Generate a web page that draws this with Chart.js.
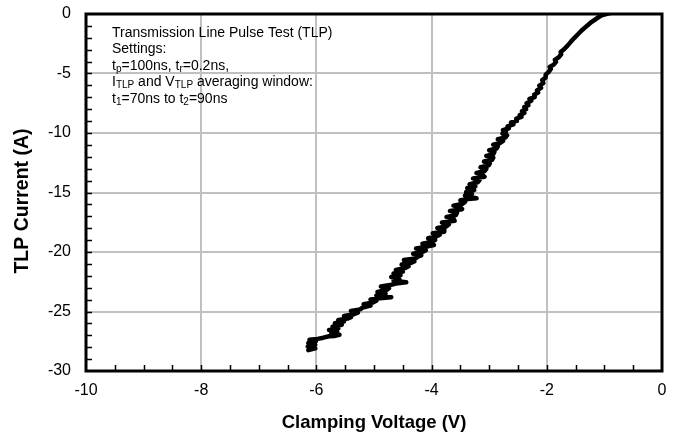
<!DOCTYPE html>
<html>
<head>
<meta charset="utf-8">
<script src="https://cdn.jsdelivr.net/npm/chart.js@4.4.0/dist/chart.umd.min.js"></script>
<style>
html, body { margin: 0; padding: 0; background: #fff; }
</style>
</head>
<body>
<canvas id="myChart" width="680" height="439"></canvas>
<script>

// clamping voltage (V) and TLP current (A), bottom to top
let voltage = [
  -6.14, -6.02, -6.15, -6.02, -6.14, -6.01, -6.12, -5.98, -5.88, -5.78,
  -5.68, -5.60, -5.74, -5.64, -5.78, -5.62, -5.72, -5.56, -5.68, -5.52,
  -5.62, -5.46, -5.40, -5.52, -5.36, -5.28, -5.40, -5.24,
  -5.20, -5.06, -5.18, -5.02, -4.96, -5.06, -4.90, -4.70, -4.96, -4.80,
  -4.94, -4.78, -4.74, -4.88, -4.72, -4.62, -4.44, -4.66, -4.56, -4.70,
  -4.54, -4.66, -4.50, -4.62, -4.46, -4.40, -4.52, -4.36, -4.30, -4.48,
  -4.28, -4.24, -4.18, -4.32, -4.16,
  -4.10, -4.27, -4.08, -3.96, -4.16, -4.00, -3.94, -4.06, -3.92, -3.86,
  -3.98, -3.78, -3.78, -3.90, -3.74, -3.70, -3.82, -3.60, -3.62, -3.74,
  -3.58, -3.56, -3.68, -3.47, -3.50, -3.62, -3.46, -3.42, -3.50, -3.36,
  -3.22, -3.34, -3.42, -3.30, -3.40,
  -3.26, -3.38, -3.24, -3.34, -3.20, -3.17, -3.28, -3.08, -3.12, -3.22,
  -3.08, -3.05, -3.15, -3.01, -2.99, -3.09, -2.95, -2.93, -3.05, -2.93,
  -2.91, -3.00, -2.87, -2.85, -2.93, -2.81, -2.76, -2.85, -2.72, -2.69,
  -2.77,
  -2.71, -2.76, -2.66, -2.68, -2.58, -2.62, -2.52, -2.53, -2.44, -2.47,
  -2.39, -2.43, -2.36, -2.39, -2.32, -2.35, -2.27, -2.30, -2.21, -2.22,
  -2.15, -2.17, -2.10, -2.13, -2.06, -2.08, -2.02, -2.02,
  -1.97, -1.93, -1.95, -1.88, -1.84, -1.86, -1.79, -1.75, -1.76, -1.70,
  -1.64, -1.58, -1.52, -1.45, -1.38, -1.30, -1.22, -1.13, -1.05, -0.97,
  -0.88
];
let current = [
  -28.25, -28.1, -27.95, -27.8, -27.65, -27.5, -27.38, -27.3, -27.2, -27.08,
  -27.05, -26.95, -26.82, -26.7, -26.55, -26.42, -26.28, -26.12, -25.98, -25.85,
  -25.72, -25.6, -25.48, -25.38, -25.25, -25.1, -24.95, -24.82,
  -24.68, -24.5, -24.38, -24.25, -24.1, -23.98, -23.88, -23.8, -23.65, -23.5,
  -23.35, -23.2, -23.05, -22.9, -22.78, -22.65, -22.55, -22.42, -22.28, -22.1,
  -21.95, -21.8, -21.65, -21.5, -21.35, -21.2, -21.05, -20.92, -20.8, -20.68,
  -20.55, -20.4, -20.28, -20.15, -20.0,
  -19.85, -19.7, -19.55, -19.42, -19.3, -19.15, -19.0, -18.85, -18.7, -18.55,
  -18.42, -18.3, -18.12, -17.98, -17.85, -17.68, -17.52, -17.38, -17.2, -17.05,
  -16.9, -16.72, -16.55, -16.4, -16.25, -16.1, -15.95, -15.8, -15.65, -15.55,
  -15.48, -15.38, -15.25, -15.1, -14.95,
  -14.8, -14.62, -14.48, -14.3, -14.15, -13.98, -13.82, -13.68, -13.5, -13.35,
  -13.2, -13.02, -12.88, -12.72, -12.55, -12.4, -12.25, -12.08, -11.92, -11.78,
  -11.6, -11.45, -11.3, -11.12, -10.98, -10.84, -10.66, -10.52, -10.38, -10.2,
  -10.05,
  -9.9, -9.75, -9.6, -9.45, -9.28, -9.12, -8.98, -8.8, -8.65, -8.5,
  -8.32, -8.16, -8.0, -7.82, -7.66, -7.5, -7.3, -7.14, -6.98, -6.78,
  -6.6, -6.42, -6.2, -6.02, -5.8, -5.55, -5.35, -5.1,
  -4.88, -4.62, -4.45, -4.25, -4.02, -3.85, -3.62, -3.38, -3.2, -2.96,
  -2.66, -2.32, -2.0, -1.66, -1.32, -0.98, -0.66, -0.36, -0.12, 0.0,
  0.1
];

let xMin = -10, xMax = 0, xStep = 2, xMinorStep = 0.5;
let yMin = -30, yMax = 0, yStep = 5, yMinorStep = 1;

let xTitle = 'Clamping Voltage (V)';
let yTitle = 'TLP Current (A)';

// text box lines, [text, subscript?] pieces
let noteLines = [
  [['Transmission Line Pulse Test (TLP)', false]],
  [['Settings:', false]],
  [['t', false], ['p', true], ['=100ns, t', false], ['r', true], ['=0.2ns,', false]],
  [['I', false], ['TLP', true], [' and V', false], ['TLP', true], [' averaging window:', false]],
  [['t', false], ['1', true], ['=70ns to t', false], ['2', true], ['=90ns', false]]
];

let punti = voltage.map(function (v, i) { return { x: v, y: current[i] }; });

let fontName = 'Arial, "Liberation Sans", sans-serif';
let gridGray = '#c0c0c0';

/********************* cornice, tacche minori, titolo y e nota ***********************/
let extras = {
  id: 'extras',
  beforeDatasetsDraw: function (chart) {
    let c = chart.ctx;
    let a = chart.chartArea;
    let sx = chart.scales.x;
    let sy = chart.scales.y;
    c.save();
    c.strokeStyle = '#000';
    c.lineWidth = 1.5;
    for (let v = xMin + xMinorStep; v < xMax; v += xMinorStep) {
      let px = Math.round(sx.getPixelForValue(v)) + 0.5;
      c.beginPath();
      c.moveTo(px, a.bottom);
      c.lineTo(px, a.bottom - 6);
      c.stroke();
    }
    for (let v = yMin + yMinorStep; v < yMax; v += yMinorStep) {
      let py = Math.round(sy.getPixelForValue(v)) + 0.5;
      c.beginPath();
      c.moveTo(a.left, py);
      c.lineTo(a.left + 6, py);
      c.stroke();
    }
    c.restore();
  },
  afterDraw: function (chart) {
    let c = chart.ctx;
    let a = chart.chartArea;
    c.save();
    c.strokeStyle = '#000';
    c.lineWidth = 3;
    c.strokeRect(a.left, a.top, a.right - a.left, a.bottom - a.top);

    // titolo asse y
    c.save();
    c.translate(23, 201);
    c.rotate(-Math.PI / 2);
    c.fillStyle = '#000';
    c.font = 'bold 19.5px ' + fontName;
    c.textAlign = 'center';
    c.textBaseline = 'middle';
    c.fillText(yTitle, 0, 0);
    c.restore();

    c.fillStyle = '#000';
    c.textBaseline = 'middle';
    let x0 = 112, y0 = 33, step = 16.5;
    noteLines.forEach(function (line, i) {
      let x = x0;
      let y = y0 + i * step;
      line.forEach(function (part) {
        if (part[1]) {
          c.font = '10px ' + fontName;
          c.fillText(part[0], x, y + 3);
        } else {
          c.font = '14px ' + fontName;
          c.fillText(part[0], x, y);
        }
        x += c.measureText(part[0]).width;
      });
    });
    c.restore();
  }
};

var ctx = document.getElementById('myChart');
var myChart = new Chart(ctx, {
  type: 'scatter',
  data: {
    datasets: [{
      data: punti,
      showLine: true,
      borderColor: '#000',
      backgroundColor: '#000',
      borderWidth: 4.5,
      borderJoinStyle: 'round',
      borderCapStyle: 'round',
      pointRadius: 0,
      tension: 0
    }]
  },
  options: {
    responsive: false,
    animation: false,
    devicePixelRatio: 1,
    layout: { padding: { top: 14, right: 18, left: 0, bottom: 0 } },
    plugins: {
      legend: { display: false },
      tooltip: { enabled: false }
    },
    scales: {
      x: {
        type: 'linear',
        min: xMin,
        max: xMax,
        afterFit: function (s) {
          s.height = 68;
          s.paddingLeft = 0;
          s.paddingRight = 0;
        },
        border: { display: false },
        grid: {
          drawTicks: false,
          lineWidth: 2,
          color: function (c) {
            let v = c.tick ? c.tick.value : null;
            return (v === xMin || v === xMax) ? 'rgba(0,0,0,0)' : gridGray;
          }
        },
        ticks: {
          stepSize: xStep,
          padding: 10,
          color: '#000',
          font: { family: fontName, size: 16 }
        },
        title: {
          display: true,
          text: xTitle,
          color: '#000',
          padding: { top: 0, bottom: 5 },
          font: { family: fontName, size: 18.5, weight: 'bold' }
        }
      },
      y: {
        type: 'linear',
        min: yMin,
        max: yMax,
        afterFit: function (s) {
          s.width = 86;
          s.paddingTop = 0;
          s.paddingBottom = 0;
        },
        border: { display: false },
        grid: {
          drawTicks: false,
          lineWidth: 2,
          color: function (c) {
            let v = c.tick ? c.tick.value : null;
            return (v === yMin || v === yMax) ? 'rgba(0,0,0,0)' : gridGray;
          }
        },
        ticks: {
          stepSize: yStep,
          padding: 15,
          color: '#000',
          font: { family: fontName, size: 16 }
        },
        title: { display: false }
      }
    }
  },
  plugins: [extras]
});

</script>
</body>
</html>
